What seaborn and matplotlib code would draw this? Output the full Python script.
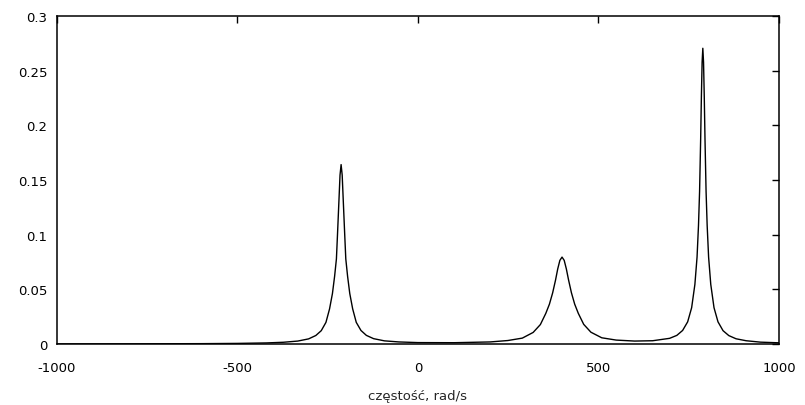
import numpy as np
import pandas as pd
import seaborn as sns
import matplotlib.pyplot as plt
from matplotlib.ticker import FuncFormatter

# wartosci (czestosc [rad/s], amplituda)
freq = [-1000, -800, -600, -500, -420, -373, -333, -303, -283, -268, -255, -245,
        -237, -231, -226, -223, -219, -216, -213, -210, -207, -203, -200, -195,
        -189, -181, -171, -158, -143, -123, -93, -53, 0, 100, 200, 249, 289, 319,
        339, 354, 364, 373, 381, 387, 393, 399, 405, 411, 417, 425, 434, 444, 459,
        479, 509, 549, 600, 650, 697, 717, 733, 747, 758, 767, 773, 777, 780, 783,
        785, 787, 789, 791, 793, 795, 798, 801, 805, 811, 820, 831, 845, 861, 881,
        909, 949, 1000]
amp = [0.00011, 0.00017, 0.00034, 0.00057, 0.0010, 0.0016, 0.0027, 0.0047,
       0.0078, 0.0122, 0.0198, 0.0321, 0.0462, 0.0619, 0.0778, 0.1001, 0.1311,
       0.1545, 0.1641, 0.1545, 0.1311, 0.1001, 0.0778, 0.0619, 0.0462, 0.0322,
       0.0198, 0.0124, 0.0079, 0.0049, 0.0029, 0.0019, 0.0013, 0.0012, 0.0019,
       0.0032, 0.0054, 0.0106, 0.0178, 0.0280, 0.0364, 0.0468, 0.0585, 0.0686,
       0.0765, 0.0795, 0.0765, 0.0686, 0.0587, 0.0469, 0.0365, 0.0281, 0.0180,
       0.0108, 0.0057, 0.0036, 0.0027, 0.0030, 0.0052, 0.0079, 0.0124, 0.0203,
       0.0332, 0.0545, 0.0795, 0.1085, 0.1395, 0.1875, 0.2260, 0.2575, 0.2705,
       0.2575, 0.2260, 0.1875, 0.1395, 0.1085, 0.0795, 0.0545, 0.0332, 0.0203,
       0.0122, 0.0077, 0.0048, 0.0030, 0.0017, 0.0011]

df = pd.DataFrame({'freq': freq, 'amp': amp})

sns.set_style("white")
plt.rcParams['font.family'] = ['DejaVu Sans']
plt.rcParams['font.size'] = 9.5
plt.rcParams['axes.unicode_minus'] = False

fig = plt.figure(figsize=(8.05, 4.06), dpi=100)
ax = fig.add_axes([0.0708, 0.1502, 0.8969, 0.8079])
sns.lineplot(data=df, x='freq', y='amp', color='black', linewidth=1.0, ax=ax)

ax.set_xlim(-1000, 1000)
ax.set_ylim(0, 0.3)
ax.set_xticks([-1000, -500, 0, 500, 1000])
ax.set_yticks([0, 0.05, 0.1, 0.15, 0.2, 0.25, 0.3])
ax.yaxis.set_major_formatter(FuncFormatter(lambda v, p: f"{v:g}"))
ax.tick_params(direction='in', length=5, width=1, colors='black',
               top=True, right=True, labelsize=9.5, pad=7)
ax.tick_params(axis='x', pad=12)
for s in ax.spines.values():
    s.set_visible(True)
    s.set_color('black')
    s.set_linewidth(1.1)

ax.set_xlabel('częstość, rad/s', fontsize=9.5, labelpad=11)
ax.set_ylabel('')

fig.savefig('out.png', dpi=100)
